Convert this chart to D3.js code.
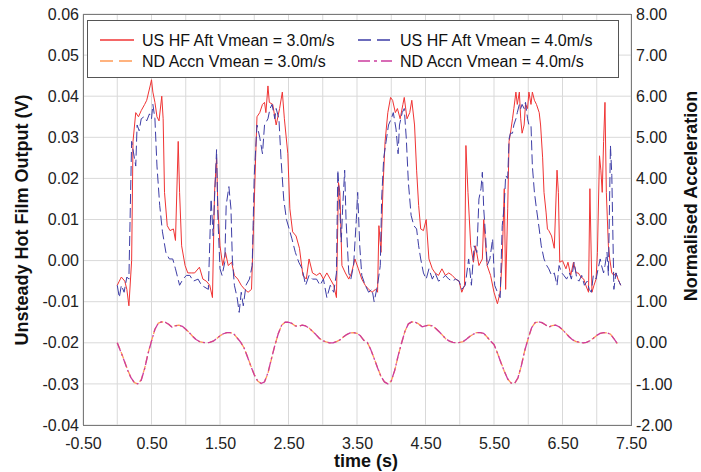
<!doctype html>
<html lang="en">
<head>
	<meta charset="UTF-8">
	<title>Hot film output and acceleration</title>
	<script src="https://cdn.jsdelivr.net/npm/d3@7"></script>
	<style>
		body { margin: 0; background: #fff; }
		text { font-family: "Liberation Sans", Arial, sans-serif; }
	</style>
</head>
<body>

	<script type="text/javascript">
		var w = 701, h = 472;
		var plotL = 83, plotR = 631, plotT = 14, plotB = 425;

		// unsteady hot film output, Vmean = 3.0 m/s  [time s, volts]
		var hf30 = [[0.00,-0.006],[0.03,-0.005],[0.06,-0.004],[0.11,-0.005],[0.14,-0.007],[0.17,-0.011],[0.21,0.000],[0.23,0.029],[0.27,0.036],[0.31,0.035],[0.35,0.0365],[0.40,0.038],[0.43,0.039],[0.48,0.0425],[0.50,0.044],[0.52,0.041],[0.55,0.0385],[0.58,0.035],[0.61,0.034],[0.65,0.040],[0.67,0.0345],[0.69,0.0166],[0.73,0.0085],[0.77,0.0073],[0.82,0.0077],[0.85,0.0049],[0.89,0.029],[0.91,0.0166],[0.94,0.0036],[0.99,-0.0012],[1.03,-0.003],[1.08,-0.003],[1.13,-0.003],[1.20,-0.0016],[1.25,-0.0045],[1.30,-0.005],[1.35,-0.006],[1.39,-0.009],[1.42,0.0166],[1.45,0.025],[1.47,0.0126],[1.50,0.0036],[1.54,-0.0012],[1.58,0.002],[1.62,-0.0012],[1.67,-0.0004],[1.71,-0.0036],[1.76,-0.0045],[1.81,-0.006],[1.86,-0.007],[1.91,-0.0077],[1.96,-0.007],[1.99,0.0085],[2.02,0.025],[2.04,0.035],[2.08,0.036],[2.12,0.038],[2.15,0.0385],[2.17,0.036],[2.20,0.0425],[2.22,0.0385],[2.27,0.038],[2.32,0.033],[2.37,0.037],[2.41,0.041],[2.44,0.0345],[2.49,0.026],[2.52,0.0126],[2.56,0.007],[2.61,0.006],[2.66,0.003],[2.71,-0.0036],[2.76,-0.0045],[2.80,0.0004],[2.85,-0.003],[2.91,-0.0036],[2.96,-0.003],[3.01,-0.0045],[3.06,-0.003],[3.11,-0.0045],[3.16,-0.006],[3.20,-0.009],[3.23,0.019],[3.25,0.0166],[3.28,-0.0012],[3.33,-0.003],[3.38,-0.0045],[3.42,-0.003],[3.47,0.0004],[3.52,-0.002],[3.57,-0.0045],[3.62,-0.006],[3.67,-0.007],[3.72,-0.0077],[3.77,-0.007],[3.80,-0.0077],[3.82,0.0085],[3.85,0.002],[3.88,0.018],[3.91,0.029],[3.95,0.036],[3.99,0.0397],[4.02,0.039],[4.06,0.036],[4.09,0.037],[4.13,0.0345],[4.17,0.038],[4.19,0.0397],[4.23,0.0345],[4.27,0.036],[4.30,0.039],[4.34,0.033],[4.37,0.022],[4.40,0.0134],[4.43,0.0077],[4.47,0.0073],[4.51,0.010],[4.55,0.0004],[4.60,-0.002],[4.64,-0.003],[4.69,-0.0036],[4.74,-0.002],[4.79,-0.0036],[4.84,-0.003],[4.89,-0.0036],[4.94,-0.0045],[4.99,-0.005],[5.03,-0.0077],[5.07,-0.006],[5.09,0.028],[5.12,0.0166],[5.16,0.0036],[5.20,-0.0004],[5.23,0.0036],[5.28,-0.0012],[5.33,0.0004],[5.35,0.010],[5.40,-0.0012],[5.45,-0.0036],[5.50,-0.0077],[5.55,-0.0105],[5.59,-0.0077],[5.62,0.0004],[5.65,0.0175],[5.67,-0.007],[5.70,0.0126],[5.72,0.029],[5.74,0.031],[5.77,0.0345],[5.79,0.037],[5.82,0.041],[5.84,0.038],[5.87,0.041],[5.89,0.0345],[5.91,0.031],[5.94,0.033],[5.96,0.038],[5.99,0.037],[6.01,0.041],[6.04,0.038],[6.06,0.041],[6.09,0.039],[6.12,0.038],[6.16,0.036],[6.18,0.033],[6.21,0.025],[6.23,0.0166],[6.26,0.0118],[6.28,0.0077],[6.30,0.0073],[6.34,0.006],[6.38,0.003],[6.42,0.022],[6.44,0.0166],[6.46,-0.0004],[6.50,0.0],[6.55,-0.002],[6.58,-0.0004],[6.62,-0.0036],[6.66,-0.0004],[6.70,-0.003],[6.73,-0.003],[6.77,-0.004],[6.81,-0.0045],[6.84,-0.006],[6.88,-0.0077],[6.90,0.0175],[6.93,-0.0077],[6.96,-0.006],[6.99,-0.0045],[7.01,0.002],[7.04,0.0255],[7.06,0.022],[7.08,0.0166],[7.10,0.029],[7.12,0.0385],[7.14,0.0166],[7.17,0.0036],[7.19,0.0004],[7.22,-0.003],[7.25,-0.0036],[7.28,-0.003],[7.31,-0.0045],[7.35,-0.006]];

		// unsteady hot film output, Vmean = 4.0 m/s
		var hf40 = [[0.00,-0.006],[0.03,-0.009],[0.06,-0.006],[0.10,-0.0077],[0.14,-0.004],[0.17,-0.0045],[0.21,0.029],[0.23,0.027],[0.27,0.023],[0.29,0.033],[0.32,0.0316],[0.35,0.0345],[0.39,0.035],[0.43,0.034],[0.47,0.0357],[0.50,0.0345],[0.52,0.038],[0.55,0.0345],[0.58,0.023],[0.62,0.0134],[0.66,0.007],[0.71,0.002],[0.76,0.0004],[0.81,0.0004],[0.85,-0.002],[0.91,-0.006],[0.96,-0.0045],[1.01,-0.0036],[1.06,-0.0036],[1.11,-0.005],[1.18,-0.0045],[1.23,-0.006],[1.28,-0.0065],[1.33,-0.007],[1.37,0.015],[1.40,0.006],[1.42,0.015],[1.45,0.027],[1.47,0.010],[1.50,-0.002],[1.53,-0.0036],[1.57,-0.0004],[1.59,0.0134],[1.63,0.018],[1.66,0.0126],[1.68,0.0004],[1.71,-0.006],[1.75,-0.009],[1.78,-0.0126],[1.81,-0.0077],[1.84,-0.011],[1.88,-0.006],[1.93,-0.0045],[1.97,-0.0012],[2.00,0.0207],[2.04,0.033],[2.08,0.030],[2.12,0.026],[2.15,0.033],[2.20,0.0345],[2.23,0.037],[2.26,0.038],[2.30,0.0345],[2.32,0.037],[2.36,0.0345],[2.39,0.025],[2.43,0.015],[2.47,0.010],[2.51,0.0077],[2.55,0.0053],[2.60,0.002],[2.65,-0.0004],[2.70,-0.002],[2.75,-0.006],[2.80,-0.0036],[2.85,-0.0045],[2.91,-0.0045],[2.96,-0.006],[3.01,-0.0045],[3.06,-0.009],[3.11,-0.006],[3.16,-0.0077],[3.20,-0.003],[3.22,0.022],[3.24,0.0166],[3.27,0.0045],[3.29,0.0126],[3.32,0.022],[3.34,0.010],[3.38,-0.003],[3.41,-0.0045],[3.45,-0.0012],[3.49,0.010],[3.51,0.0166],[3.54,0.0036],[3.57,-0.0036],[3.62,-0.006],[3.67,-0.0077],[3.72,-0.007],[3.75,-0.010],[3.80,-0.006],[3.84,-0.0012],[3.86,0.015],[3.89,0.025],[3.93,0.0296],[3.96,0.033],[4.00,0.0345],[4.03,0.036],[4.07,0.032],[4.10,0.026],[4.12,0.033],[4.16,0.036],[4.19,0.037],[4.22,0.0296],[4.25,0.019],[4.29,0.011],[4.33,0.0085],[4.37,0.0077],[4.40,0.0036],[4.43,0.0004],[4.47,-0.003],[4.51,-0.0045],[4.55,-0.002],[4.60,-0.0045],[4.64,-0.003],[4.69,-0.005],[4.74,-0.0045],[4.79,-0.0036],[4.84,-0.0045],[4.89,-0.005],[4.94,-0.0045],[4.99,-0.005],[5.03,-0.007],[5.08,-0.006],[5.13,0.0004],[5.17,-0.006],[5.21,0.0036],[5.25,0.002],[5.28,0.015],[5.31,0.0175],[5.33,0.0215],[5.35,0.0126],[5.38,0.0053],[5.40,-0.0012],[5.44,0.0004],[5.48,0.0053],[5.51,-0.006],[5.55,-0.0077],[5.59,-0.009],[5.62,0.0085],[5.65,0.0134],[5.67,0.0207],[5.70,0.020],[5.72,0.0296],[5.74,0.031],[5.77,0.031],[5.79,0.033],[5.82,0.0345],[5.84,0.036],[5.87,0.038],[5.89,0.037],[5.91,0.038],[5.94,0.037],[5.96,0.0385],[5.99,0.0345],[6.01,0.033],[6.04,0.033],[6.06,0.023],[6.09,0.0166],[6.12,0.0126],[6.16,0.0077],[6.19,0.0036],[6.23,0.0004],[6.27,-0.0012],[6.30,-0.002],[6.34,-0.0036],[6.38,-0.003],[6.42,-0.006],[6.45,-0.0012],[6.49,-0.003],[6.52,-0.0036],[6.56,-0.0045],[6.60,-0.003],[6.63,-0.0045],[6.67,-0.0004],[6.71,-0.0045],[6.74,-0.005],[6.78,-0.0036],[6.82,-0.006],[6.86,-0.005],[6.89,-0.007],[6.92,-0.0077],[6.95,-0.0036],[6.99,-0.0045],[7.02,-0.002],[7.05,0.0004],[7.07,-0.0012],[7.10,-0.003],[7.12,-0.0012],[7.15,0.002],[7.17,-0.0036],[7.20,0.028],[7.22,0.0207],[7.25,-0.007],[7.28,-0.003],[7.31,-0.0045],[7.35,-0.006]];

		// normalised acceleration, sampled every 0.05 s from 0 to 7.30 s
		var accTime = d3.range(0, 7.301, 0.05);
		var acc30 = [0.00,-0.20,-0.42,-0.65,-0.85,-0.97,-1.00,-0.90,-0.62,-0.25,0.05,0.33,0.48,0.51,0.50,0.45,0.38,0.42,0.43,0.40,0.33,0.25,0.16,0.08,0.03,0.01,0.00,0.01,0.04,0.10,0.17,0.22,0.25,0.25,0.22,0.12,0.02,
			-0.12,-0.33,-0.56,-0.77,-0.93,-0.99,-0.95,-0.74,-0.40,-0.07,0.22,0.43,0.50,0.50,0.47,0.41,0.40,0.43,0.41,0.36,0.28,0.20,0.11,0.05,0.02,0.00,0.00,0.03,0.07,0.14,0.20,0.24,0.25,0.23,0.17,0.06,
			0.01,-0.16,-0.38,-0.60,-0.82,-0.95,-1.00,-0.93,-0.68,-0.32,-0.01,0.28,0.46,0.51,0.50,0.46,0.39,0.41,0.43,0.41,0.35,0.27,0.18,0.09,0.04,0.01,0.00,0.01,0.03,0.09,0.16,0.21,0.25,0.25,0.23,0.14,0.04,
			-0.04,-0.25,-0.47,-0.69,-0.88,-0.98,-0.99,-0.86,-0.55,-0.18,0.11,0.37,0.49,0.51,0.49,0.44,0.38,0.42,0.43,0.39,0.32,0.23,0.14,0.07,0.03,0.01,0.00,0.01,0.05,0.11,0.18,0.23,0.25,0.24,0.21,0.10,-0.02];
		var acc40 = [0.00,-0.21,-0.43,-0.66,-0.85,-0.97,-1.00,-0.91,-0.63,-0.26,0.04,0.33,0.48,0.51,0.50,0.45,0.38,0.41,0.43,0.40,0.33,0.25,0.16,0.08,0.03,0.01,0.00,0.01,0.04,0.10,0.17,0.22,0.25,0.25,0.22,0.12,0.02,
			-0.12,-0.34,-0.57,-0.78,-0.93,-0.99,-0.95,-0.73,-0.39,-0.07,0.22,0.43,0.50,0.50,0.47,0.41,0.40,0.43,0.41,0.36,0.28,0.20,0.11,0.05,0.02,0.00,0.00,0.03,0.07,0.14,0.20,0.24,0.25,0.23,0.17,0.06,
			0.01,-0.16,-0.38,-0.61,-0.82,-0.95,-1.00,-0.93,-0.67,-0.32,-0.01,0.28,0.46,0.51,0.50,0.46,0.39,0.41,0.43,0.41,0.35,0.27,0.18,0.09,0.04,0.01,0.00,0.01,0.03,0.09,0.16,0.21,0.25,0.25,0.23,0.14,0.04,
			-0.04,-0.25,-0.48,-0.69,-0.88,-0.98,-0.99,-0.85,-0.55,-0.18,0.11,0.37,0.49,0.51,0.49,0.44,0.38,0.42,0.43,0.39,0.32,0.23,0.14,0.07,0.03,0.01,0.00,0.01,0.05,0.11,0.18,0.23,0.25,0.24,0.21,0.10,-0.02];

		var xTicks = [-0.5, 0.5, 1.5, 2.5, 3.5, 4.5, 5.5, 6.5, 7.5];
		var xGrid = d3.range(-0.5, 7.51, 0.5);
		var yLeftTicks = [-0.04, -0.03, -0.02, -0.01, 0, 0.01, 0.02, 0.03, 0.04, 0.05, 0.06];
		var yRightTicks = [-2, -1, 0, 1, 2, 3, 4, 5, 6, 7, 8];

		var seriesNames = ["US HF Aft Vmean = 3.0m/s", "US HF Aft Vmean = 4.0m/s",
			"ND Accn Vmean = 3.0m/s", "ND Accn Vmean = 4.0m/s"];

		var x = d3.scaleLinear().domain([-0.5, 7.5]).range([plotL, plotR]);
		var yL = d3.scaleLinear().domain([-0.04, 0.06]).range([plotB, plotT]);
		var yR = d3.scaleLinear().domain([-2, 8]).range([plotB, plotT]);

		var styles = [
			{ color: "#f03434", dash: null, width: 1 },
			{ color: "#3d3da6", dash: "10,4", width: 1 },
			{ color: "#ff9a55", dash: "7,3", width: 1.3 },
			{ color: "#cc3c9e", dash: "9,3,2,3", width: 1.3 }
		];

		var svg = d3.select("body").append("svg")
			.attr("width", w)
			.attr("height", h);

		svg.append("rect").attr("width", w).attr("height", h).attr("fill", "#fff");

		// grid
		svg.append("g").selectAll("line")
			.data(yLeftTicks)
			.enter().append("line")
			.attr("x1", plotL).attr("x2", plotR)
			.attr("y1", function(d) { return yL(d); })
			.attr("y2", function(d) { return yL(d); })
			.attr("stroke", "#d9d9d9");

		svg.append("g").selectAll("line")
			.data(xGrid)
			.enter().append("line")
			.attr("y1", plotT).attr("y2", plotB)
			.attr("x1", function(d) { return x(d); })
			.attr("x2", function(d) { return x(d); })
			.attr("stroke", "#d9d9d9");

		// axes (labels only, frame drawn as a rect)
		var fmt = function(d) { return (Math.abs(d) < 1e-9 ? 0 : d).toFixed(2); };
		var ax = svg.append("g").attr("transform", "translate(0," + plotB + ")")
			.call(d3.axisBottom(x).tickValues(xTicks).tickFormat(fmt).tickSize(0).tickPadding(13));
		var ayl = svg.append("g").attr("transform", "translate(" + plotL + ",0)")
			.call(d3.axisLeft(yL).tickValues(yLeftTicks).tickFormat(fmt).tickSize(0).tickPadding(4));
		var ayr = svg.append("g").attr("transform", "translate(" + plotR + ",0)")
			.call(d3.axisRight(yR).tickValues(yRightTicks).tickFormat(fmt).tickSize(0).tickPadding(5));

		[ax, ayl, ayr].forEach(function(a) {
			a.select(".domain").remove();
			a.selectAll("text")
				.attr("font-family", "'Liberation Sans', Arial, sans-serif")
				.attr("font-size", "16px")
				.attr("fill", "#222");
		});

		// lines
		var lineL = d3.line()
			.x(function(d) { return x(d[0]); })
			.y(function(d) { return yL(d[1]); });
		var lineR = d3.line()
			.x(function(d) { return x(d[0]); })
			.y(function(d) { return yR(d[1]); });

		var acc30pts = accTime.map(function(t, i) { return [t, acc30[i]]; });
		var acc40pts = accTime.map(function(t, i) { return [t, acc40[i]]; });

		var plotted = [
			{ d: hf30, line: lineL },
			{ d: hf40, line: lineL },
			{ d: acc30pts, line: lineR },
			{ d: acc40pts, line: lineR }
		];

		plotted.forEach(function(p, i) {
			svg.append("path")
				.attr("d", p.line(p.d))
				.attr("fill", "none")
				.attr("stroke", styles[i].color)
				.attr("stroke-width", styles[i].width)
				.attr("stroke-dasharray", styles[i].dash)
				.attr("stroke-linejoin", "round");
		});

		// plot frame
		svg.append("rect")
			.attr("x", plotL + 0.5).attr("y", plotT + 0.5)
			.attr("width", plotR - plotL).attr("height", plotB - plotT)
			.attr("fill", "none")
			.attr("stroke", "#7a7a7a");

		// legend
		var lg = svg.append("g");
		lg.append("rect")
			.attr("x", 87.5).attr("y", 20.5)
			.attr("width", 531).attr("height", 57)
			.attr("fill", "#fff")
			.attr("stroke", "#555");

		var legendPos = [[100, 40], [358, 40], [100, 61], [358, 61]];
		seriesNames.forEach(function(name, i) {
			var p = legendPos[i];
			lg.append("line")
				.attr("x1", p[0]).attr("x2", p[0] + 34)
				.attr("y1", p[1]).attr("y2", p[1])
				.attr("stroke", styles[i].color)
				.attr("stroke-width", 1.3)
				.attr("stroke-dasharray", i == 0 ? null : (i == 3 ? "12,4,3,4" : "13,6"));
			lg.append("text")
				.attr("x", p[0] + 42).attr("y", p[1] + 6)
				.attr("font-size", "16px")
				.attr("fill", "#111")
				.text(name);
		});

		// axis titles
		svg.append("text")
			.attr("x", 366).attr("y", 467)
			.attr("text-anchor", "middle")
			.attr("font-size", "18px").attr("font-weight", "bold")
			.attr("fill", "#111")
			.text("time (s)");

		svg.append("text")
			.attr("transform", "translate(28,220) rotate(-90)")
			.attr("text-anchor", "middle")
			.attr("font-size", "18px").attr("font-weight", "bold")
			.attr("fill", "#111")
			.text("Unsteady Hot Film Output (V)");

		svg.append("text")
			.attr("transform", "translate(697,196) rotate(-90)")
			.attr("text-anchor", "middle")
			.attr("font-size", "18px").attr("font-weight", "bold")
			.attr("fill", "#111")
			.text("Normalised Acceleration");
	</script>

</body>
</html>
